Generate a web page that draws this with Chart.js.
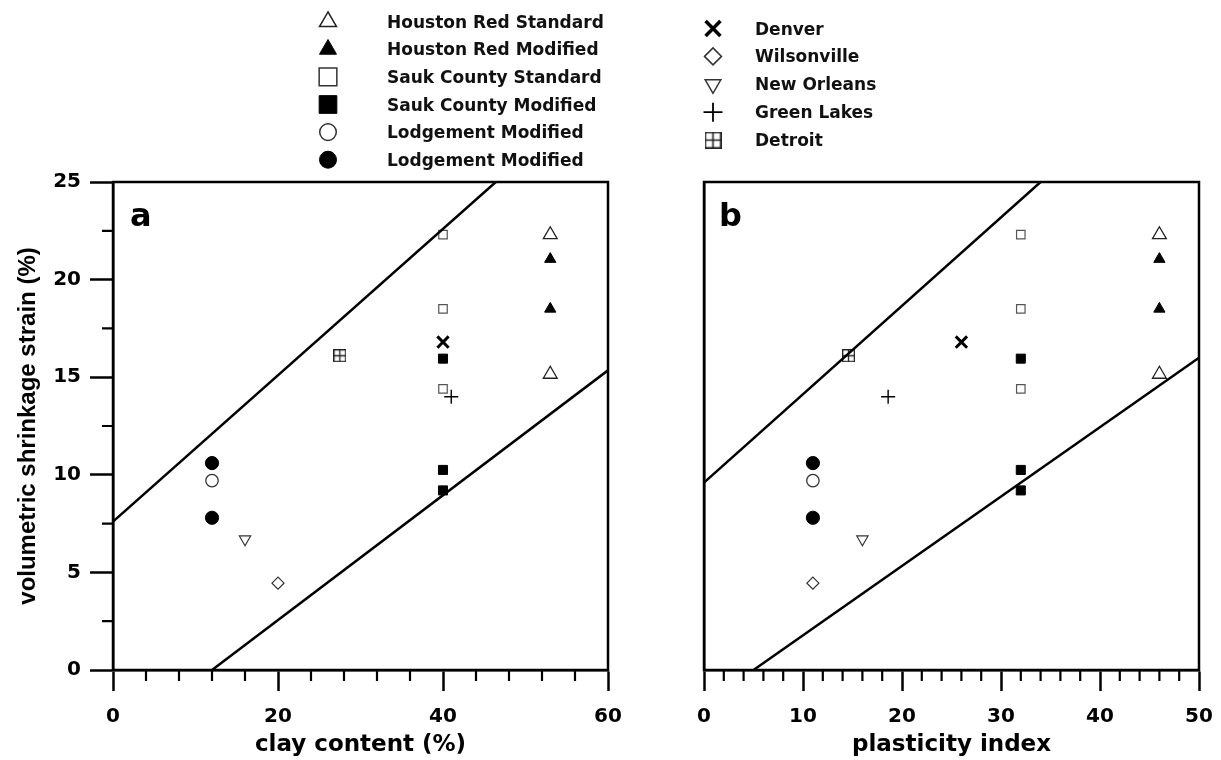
<!DOCTYPE html>
<html>
<head>
<meta charset="utf-8">
<script src="https://cdn.jsdelivr.net/npm/chart.js@4.4.0/dist/chart.umd.min.js"></script>
<style>
  body { margin: 0; background: #fff; width: 1221px; height: 760px; position: relative; overflow: hidden; }
  canvas { position: absolute; top: 0; }
  #chartA { left: 0; }
  #chartB { left: 620px; }
  #legendSymbols { left: 0; }
  .leg { position: absolute; font-family: "DejaVu Sans", sans-serif; font-weight: bold; font-size: 17px; line-height: 20px; white-space: nowrap; color: #111; }
</style>
</head>
<body>
<canvas id="legendSymbols" width="1221" height="175"></canvas>
<canvas id="chartA" width="640" height="760"></canvas>
<canvas id="chartB" width="620" height="760"></canvas>
<div id="legend"></div>
<script>
const FONT = '"DejaVu Sans", sans-serif';

// legend names, two columns
const leftNames = ['Houston Red Standard', 'Houston Red Modified', 'Sauk County Standard',
                   'Sauk County Modified', 'Lodgement Modified', 'Lodgement Modified'];
const rightNames = ['Denver', 'Wilsonville', 'New Orleans', 'Green Lakes', 'Detroit'];

// clay content (%), plasticity index and volumetric shrinkage strain (%) per soil
const houstonStdClay = [53, 53];
const houstonStdPI = [46, 46];
const houstonStdStrain = [22.3, 15.15];

const houstonModClay = [53, 53];
const houstonModPI = [46, 46];
const houstonModStrain = [21.05, 18.5];

const saukStdClay = [40, 40, 40];
const saukStdPI = [32, 32, 32];
const saukStdStrain = [22.3, 18.5, 14.4];

const saukModClay = [40, 40, 40];
const saukModPI = [32, 32, 32];
const saukModStrain = [15.95, 10.25, 9.2];

const lodgeOpenClay = [12];
const lodgeOpenPI = [11];
const lodgeOpenStrain = [9.7];

const lodgeFilledClay = [12, 12];
const lodgeFilledPI = [11, 11];
const lodgeFilledStrain = [10.6, 7.8];

const denverClay = [40];
const denverPI = [26];
const denverStrain = [16.8];

const wilsonvilleClay = [20];
const wilsonvillePI = [11];
const wilsonvilleStrain = [4.45];

const newOrleansClay = [16];
const newOrleansPI = [16];
const newOrleansStrain = [6.7];

const greenLakesClay = [41];
const greenLakesPI = [18.6];
const greenLakesStrain = [14.0];

const detroitClay = [27.5];
const detroitPI = [14.6];
const detroitStrain = [16.1];

// envelope lines
const upperClayX = [0, 46.4];
const upperClayY = [7.6, 25];
const lowerClayX = [12, 60];
const lowerClayY = [0, 15.35];
const upperPIX = [0, 34];
const upperPIY = [9.6, 25];
const lowerPIX = [5, 50];
const lowerPIY = [0, 16];

// axis ticks
const clayTicks = [0, 20, 40, 60];
const piTicks = [0, 10, 20, 30, 40, 50];
const strainTicks = [0, 5, 10, 15, 20, 25];

function pts(xs, ys) {
  return xs.map((x, i) => ({ x: x, y: ys[i] }));
}

// little square with a cross for Detroit
function gridSquare(size, lw) {
  const c = document.createElement('canvas');
  c.width = size; c.height = size;
  const g = c.getContext('2d');
  g.strokeStyle = '#222';
  g.lineWidth = lw;
  g.strokeRect(lw / 2, lw / 2, size - lw, size - lw);
  g.beginPath();
  g.moveTo(size / 2, 0); g.lineTo(size / 2, size);
  g.moveTo(0, size / 2); g.lineTo(size, size / 2);
  g.stroke();
  return c;
}

// marker looks, same order as the series below
const markers = [
  { style: 'triangle', r: 8, fill: false, bw: 1.3, color: '#222' },
  { style: 'triangle', r: 6.5, fill: true, bw: 1, color: '#000' },
  { style: 'rect', r: 6, fill: false, bw: 1.2, color: '#555' },
  { style: 'rect', r: 6.4, fill: true, bw: 1, color: '#000' },
  { style: 'circle', r: 6.2, fill: false, bw: 1.3, color: '#333' },
  { style: 'circle', r: 6.6, fill: true, bw: 1, color: '#000' },
  { style: 'crossRot', r: 8, fill: false, bw: 3, color: '#000' },
  { style: 'rectRot', r: 6, fill: false, bw: 1.2, color: '#333' },
  { style: 'triangle', r: 6.5, fill: false, bw: 1.2, color: '#333', rot: 180 },
  { style: 'cross', r: 7, fill: false, bw: 1.4, color: '#000' },
  { style: gridSquare(13, 1.3), r: 6, fill: false, bw: 1, color: '#222' }
];
const legendMarkers = [
  { style: 'triangle', r: 9.8, fill: false, bw: 1.5, color: '#222' },
  { style: 'triangle', r: 9.8, fill: true, bw: 1, color: '#000' },
  { style: 'rect', r: 12.5, fill: false, bw: 1.5, color: '#333' },
  { style: 'rect', r: 12.5, fill: true, bw: 1, color: '#000' },
  { style: 'circle', r: 8.3, fill: false, bw: 1.5, color: '#333' },
  { style: 'circle', r: 8.5, fill: true, bw: 1, color: '#000' },
  { style: 'crossRot', r: 10.5, fill: false, bw: 3.5, color: '#000' },
  { style: 'rectRot', r: 8.5, fill: false, bw: 1.5, color: '#333' },
  { style: 'triangle', r: 9, fill: false, bw: 1.5, color: '#333', rot: 180 },
  { style: 'cross', r: 9.5, fill: false, bw: 1.8, color: '#000' },
  { style: gridSquare(17, 1.6), r: 8, fill: false, bw: 1, color: '#222' }
];

const names = leftNames.concat(rightNames);
const clayData = [houstonStdClay, houstonModClay, saukStdClay, saukModClay, lodgeOpenClay, lodgeFilledClay,
                  denverClay, wilsonvilleClay, newOrleansClay, greenLakesClay, detroitClay];
const piData = [houstonStdPI, houstonModPI, saukStdPI, saukModPI, lodgeOpenPI, lodgeFilledPI,
                denverPI, wilsonvillePI, newOrleansPI, greenLakesPI, detroitPI];
const strainData = [houstonStdStrain, houstonModStrain, saukStdStrain, saukModStrain, lodgeOpenStrain,
                    lodgeFilledStrain, denverStrain, wilsonvilleStrain, newOrleansStrain, greenLakesStrain,
                    detroitStrain];

function pointSets(xData) {
  return names.map((n, i) => {
    const m = markers[i];
    return {
      type: 'scatter',
      label: n,
      data: pts(xData[i], strainData[i]),
      pointStyle: m.style,
      pointRadius: m.r,
      pointRotation: m.rot || 0,
      pointBackgroundColor: m.fill ? m.color : 'rgba(0,0,0,0)',
      pointBorderColor: m.color,
      pointBorderWidth: m.bw
    };
  });
}

function lineSet(xs, ys) {
  return {
    type: 'line',
    data: pts(xs, ys),
    borderColor: '#000',
    borderWidth: 2.5,
    pointRadius: 0,
    tension: 0,
    fill: false
  };
}

// frame, minor ticks and panel letter
const panelPlugin = {
  id: 'panel',
  afterDraw(chart, args, opts) {
    const ctx = chart.ctx;
    const a = chart.chartArea;
    ctx.save();
    ctx.strokeStyle = '#000';
    ctx.lineWidth = 2.5;
    ctx.strokeRect(a.left, a.top, a.right - a.left, a.bottom - a.top);

    ctx.lineWidth = 2.2;
    ctx.beginPath();
    const xs = chart.scales.x;
    for (let v = xs.min; v <= xs.max + 1e-9; v += opts.xMinor) {
      if (Math.abs(v / opts.xMajor - Math.round(v / opts.xMajor)) < 1e-6) continue;
      const px = xs.getPixelForValue(v);
      ctx.moveTo(px, a.bottom);
      ctx.lineTo(px, a.bottom + opts.minorLen);
    }
    if (opts.yMinor) {
      const ys = chart.scales.y;
      for (let v = ys.min; v <= ys.max + 1e-9; v += opts.yMinor) {
        if (Math.abs(v / opts.yMajor - Math.round(v / opts.yMajor)) < 1e-6) continue;
        const py = ys.getPixelForValue(v);
        ctx.moveTo(a.left, py);
        ctx.lineTo(a.left - opts.minorLen, py);
      }
    }
    ctx.stroke();

    ctx.fillStyle = '#000';
    ctx.font = 'bold 32px ' + FONT;
    ctx.textBaseline = 'alphabetic';
    ctx.fillText(opts.letter, a.left + opts.letterDx, a.top + 44);
    ctx.restore();
  }
};

function xAxis(min, max, step, ticks, title) {
  return {
    type: 'linear',
    min: min, max: max,
    afterBuildTicks: s => { s.ticks = ticks.map(v => ({ value: v })); },
    ticks: { stepSize: step, color: '#000', padding: 14, maxRotation: 0,
             font: { family: FONT, size: 20, weight: 'bold' } },
    grid: { drawOnChartArea: false, drawTicks: true, tickLength: 21, tickColor: '#000', tickWidth: 2.5 },
    border: { display: true, color: '#000', width: 2.5 },
    title: { display: true, text: title, color: '#000', padding: { top: 0, bottom: 1 },
             font: { family: FONT, size: 23, weight: 'bold' } },
    afterFit: s => { s.height = 90; }
  };
}

const chartA = new Chart(document.getElementById('chartA'), {
  data: {
    datasets: [lineSet(upperClayX, upperClayY), lineSet(lowerClayX, lowerClayY)].concat(pointSets(clayData))
  },
  options: {
    responsive: false,
    animation: false,
    events: [],
    layout: { padding: { top: 182, right: 32, left: 0, bottom: 0 } },
    plugins: {
      legend: { display: false },
      tooltip: { enabled: false },
      panel: { letter: 'a', letterDx: 17, xMinor: 4, xMajor: 20, yMinor: 2.5, yMajor: 5, minorLen: 11 }
    },
    scales: {
      x: xAxis(0, 60, 20, clayTicks, 'clay content (%)'),
      y: {
        type: 'linear',
        min: 0, max: 25,
        afterBuildTicks: s => { s.ticks = strainTicks.map(v => ({ value: v })); },
        ticks: { stepSize: 5, color: '#000', padding: 9,
                 font: { family: FONT, size: 20, weight: 'bold' } },
        grid: { drawOnChartArea: false, drawTicks: true, tickLength: 23, tickColor: '#000', tickWidth: 2.5 },
        border: { display: true, color: '#000', width: 2.5 },
        title: { display: true, text: 'volumetric shrinkage strain (%)', color: '#000',
                 padding: { top: 14, bottom: 0 },
                 font: { family: '"Liberation Sans", Arial, sans-serif', size: 24, weight: 'bold' } },
        afterFit: s => { s.width = 113; }
      }
    }
  },
  plugins: [panelPlugin]
});

const chartB = new Chart(document.getElementById('chartB'), {
  data: {
    datasets: [lineSet(upperPIX, upperPIY), lineSet(lowerPIX, lowerPIY)].concat(pointSets(piData))
  },
  options: {
    responsive: false,
    animation: false,
    events: [],
    layout: { padding: { top: 182, right: 41, left: 0, bottom: 0 } },
    plugins: {
      legend: { display: false },
      tooltip: { enabled: false },
      panel: { letter: 'b', letterDx: 15, xMinor: 2, xMajor: 10, yMinor: 0, yMajor: 5, minorLen: 11 }
    },
    scales: {
      x: xAxis(0, 50, 10, piTicks, 'plasticity index'),
      y: {
        type: 'linear',
        min: 0, max: 25,
        ticks: { display: false, stepSize: 5 },
        grid: { drawOnChartArea: false, drawTicks: false },
        border: { display: true, color: '#000', width: 2.5 },
        afterFit: s => { s.width = 84; }
      }
    }
  },
  plugins: [panelPlugin]
});

// legend: symbols on a canvas, names as html text
const legCtx = document.getElementById('legendSymbols').getContext('2d');
const legendBox = document.getElementById('legend');
function legendRow(i, sx, tx, cy) {
  const m = legendMarkers[i];
  legCtx.save();
  legCtx.fillStyle = m.fill ? m.color : 'rgba(0,0,0,0)';
  legCtx.strokeStyle = m.color;
  legCtx.lineWidth = m.bw;
  Chart.helpers.drawPoint(legCtx, { pointStyle: m.style, radius: m.r, rotation: m.rot || 0, borderWidth: m.bw }, sx, cy);
  legCtx.restore();
  const d = document.createElement('div');
  d.className = 'leg';
  d.style.left = tx + 'px';
  d.style.top = (cy - 10) + 'px';
  d.textContent = names[i];
  legendBox.appendChild(d);
}
leftNames.forEach((n, k) => legendRow(k, 328, 387, 21.7 + k * 27.6));
rightNames.forEach((n, k) => legendRow(leftNames.length + k, 713, 755, 28.5 + k * 27.9));
</script>
</body>
</html>
